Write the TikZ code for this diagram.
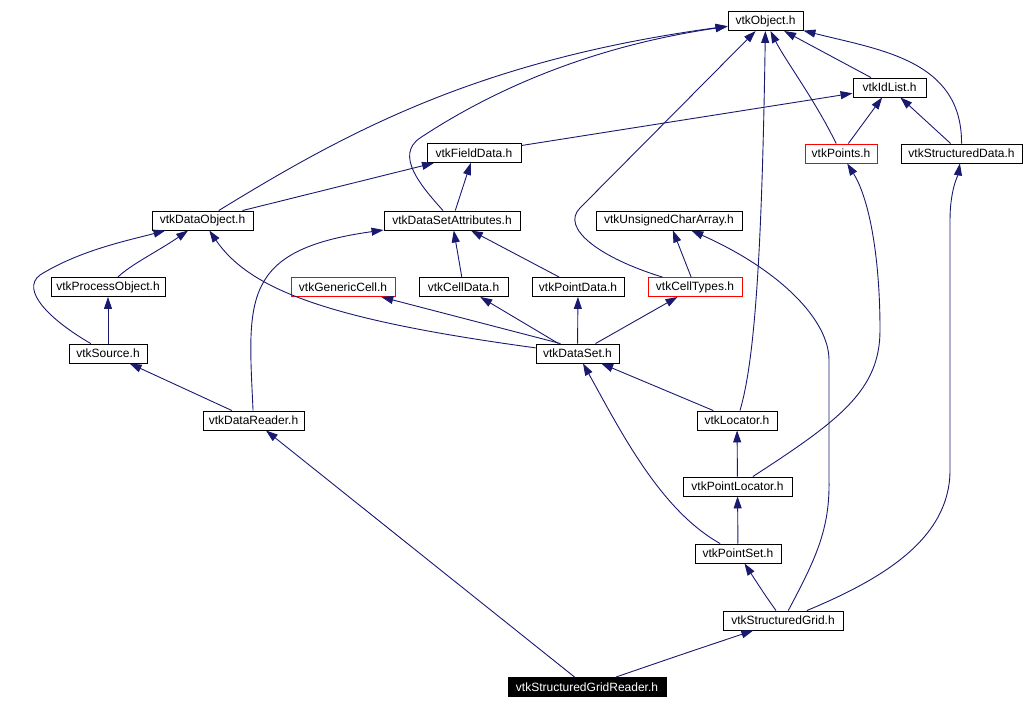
\documentclass[tikz,border=0pt]{standalone}
\usepackage{fontspec}
\setmainfont{Liberation Sans}
\usetikzlibrary{arrows.meta}
\definecolor{edgeblue}{HTML}{191970}
\begin{document}
\begin{tikzpicture}[x=1pt,y=-1pt,
  box/.style={draw=black,line width=0.9pt,fill=white,inner sep=0pt,minimum height=19pt,
    font=\fontsize{12}{13}\selectfont,anchor=center},
  redbox/.style={box,draw=red},
  darkbox/.style={box,fill=black,draw=black,text=white},
  dep/.style={draw=edgeblue,line width=0.9pt,-{Triangle[length=12pt,width=8pt]}}]
\useasboundingbox (0,0) rectangle (1024,709);
% nodes
\node[box,minimum width=75pt] (obj) at (765.5,21) {vtkObject.h};
\node[box,minimum width=73pt] (idl) at (889.5,87.5) {vtkIdList.h};
\node[box,minimum width=94pt] (fd) at (474,153) {vtkFieldData.h};
\node[redbox,minimum width=72pt] (pts) at (841,153.5) {vtkPoints.h};
\node[box,minimum width=121pt] (sd) at (961.5,153.5) {vtkStructuredData.h};
\node[box,minimum width=101pt] (do) at (202.5,220.5) {vtkDataObject.h};
\node[box,minimum width=136pt] (dsa) at (452,220.5) {vtkDataSetAttributes.h};
\node[box,minimum width=146pt] (uca) at (669,220.5) {vtkUnsignedCharArray.h};
\node[box,minimum width=114pt] (po) at (108,287) {vtkProcessObject.h};
\node[redbox,minimum width=104pt] (gc) at (343,287) {vtkGenericCell.h};
\node[box,minimum width=89pt] (cd) at (463.5,287) {vtkCellData.h};
\node[box,minimum width=92pt] (pd) at (578,287) {vtkPointData.h};
\node[redbox,minimum width=94pt] (ct) at (695,287) {vtkCellTypes.h};
\node[box,minimum width=78pt] (src) at (108,353.5) {vtkSource.h};
\node[box,minimum width=83pt] (ds) at (577.5,353.5) {vtkDataSet.h};
\node[box,minimum width=101pt] (dr) at (253.5,420.5) {vtkDataReader.h};
\node[box,minimum width=80pt] (loc) at (737,420.5) {vtkLocator.h};
\node[box,minimum width=109pt] (pl) at (737.5,486.5) {vtkPointLocator.h};
\node[box,minimum width=86pt] (ps) at (738,553.5) {vtkPointSet.h};
\node[box,minimum width=120pt] (sg) at (783,620.5) {vtkStructuredGrid.h};
\node[darkbox,minimum width=158pt] (sgr) at (587,687) {vtkStructuredGridReader.h};
% edges to vtkObject
\draw[dep] (do) .. controls (350,130) and (480,60) .. (obj);
\draw[dep] (dsa) .. controls (420,185) and (395,155) .. (420,138) .. controls (500,85) and (600,45) .. (obj);
\draw[dep] (ct) .. controls (600,258) and (560,228) .. (580,208) -- (obj);
\draw[dep] (loc) .. controls (755,360) and (762,250) .. (obj);
\draw[dep] (pts) .. controls (815,100) and (785,60) .. (obj);
\draw[dep] (sd) .. controls (962,60) and (880,50) .. (obj);
\draw[dep] (idl) -- (obj);
% vtkIdList
\draw[dep] (fd) -- (idl);
\draw[dep] (pts) -- (idl);
\draw[dep] (sd) -- (idl);
% vtkFieldData
\draw[dep] (do) -- (fd);
\draw[dep] (dsa) -- (fd);
% vtkDataObject
\draw[dep] (po) .. controls (130,265) and (160,250) .. (do);
\draw[dep] (src) .. controls (50,320) and (20,290) .. (40,275) .. controls (80,250) and (130,240) .. (do);
\draw[dep] (ds) .. controls (330,320) and (250,290) .. (do);
% vtkDataSetAttributes
\draw[dep] (dr) .. controls (248,300) and (240,250) .. (dsa);
\draw[dep] (cd) .. controls (458,255) .. (dsa);
\draw[dep] (pd) -- (dsa);
% vtkUnsignedCharArray
\draw[dep] (ct) -- (uca);
\draw[dep] (sg) .. controls (815,560) and (830,530) .. (829,480) -- (829,360) .. controls (829,320) and (780,270) .. (uca);
% vtkProcessObject
\draw[dep] (src) -- (po);
% vtkDataSet dependencies
\draw[dep] ([xshift=-17pt]ds.north) -- (gc);
\draw[dep] ([xshift=-19pt]ds.north) -- (cd);
\draw[dep] (ds) -- (pd);
\draw[dep] ([xshift=18pt]ds.north) -- (ct);
% vtkSource
\draw[dep] (dr) -- (src);
% vtkDataSet
\draw[dep] (loc) -- (ds);
\draw[dep] (ps) .. controls (660,510) and (620,430) .. (ds);
% vtkLocator / vtkPoints
\draw[dep] (pl) -- (loc);
\draw[dep] (pl) .. controls (840,420) and (880,390) .. (880,330) .. controls (880,260) and (870,200) .. (pts);
% vtkPointLocator
\draw[dep] (ps) -- (pl);
% vtkStructuredGrid
\draw[dep] (sg) .. controls (765,595) .. (ps);
\draw[dep] (sg) .. controls (880,580) and (950,540) .. (950,470) -- (950,220) .. controls (950,190) and (958,175) .. (sd);
% vtkStructuredGridReader
\draw[dep] (sgr) .. controls (680,655) .. (sg);
\draw[dep] (sgr) -- (dr);
\end{tikzpicture}
\end{document}
